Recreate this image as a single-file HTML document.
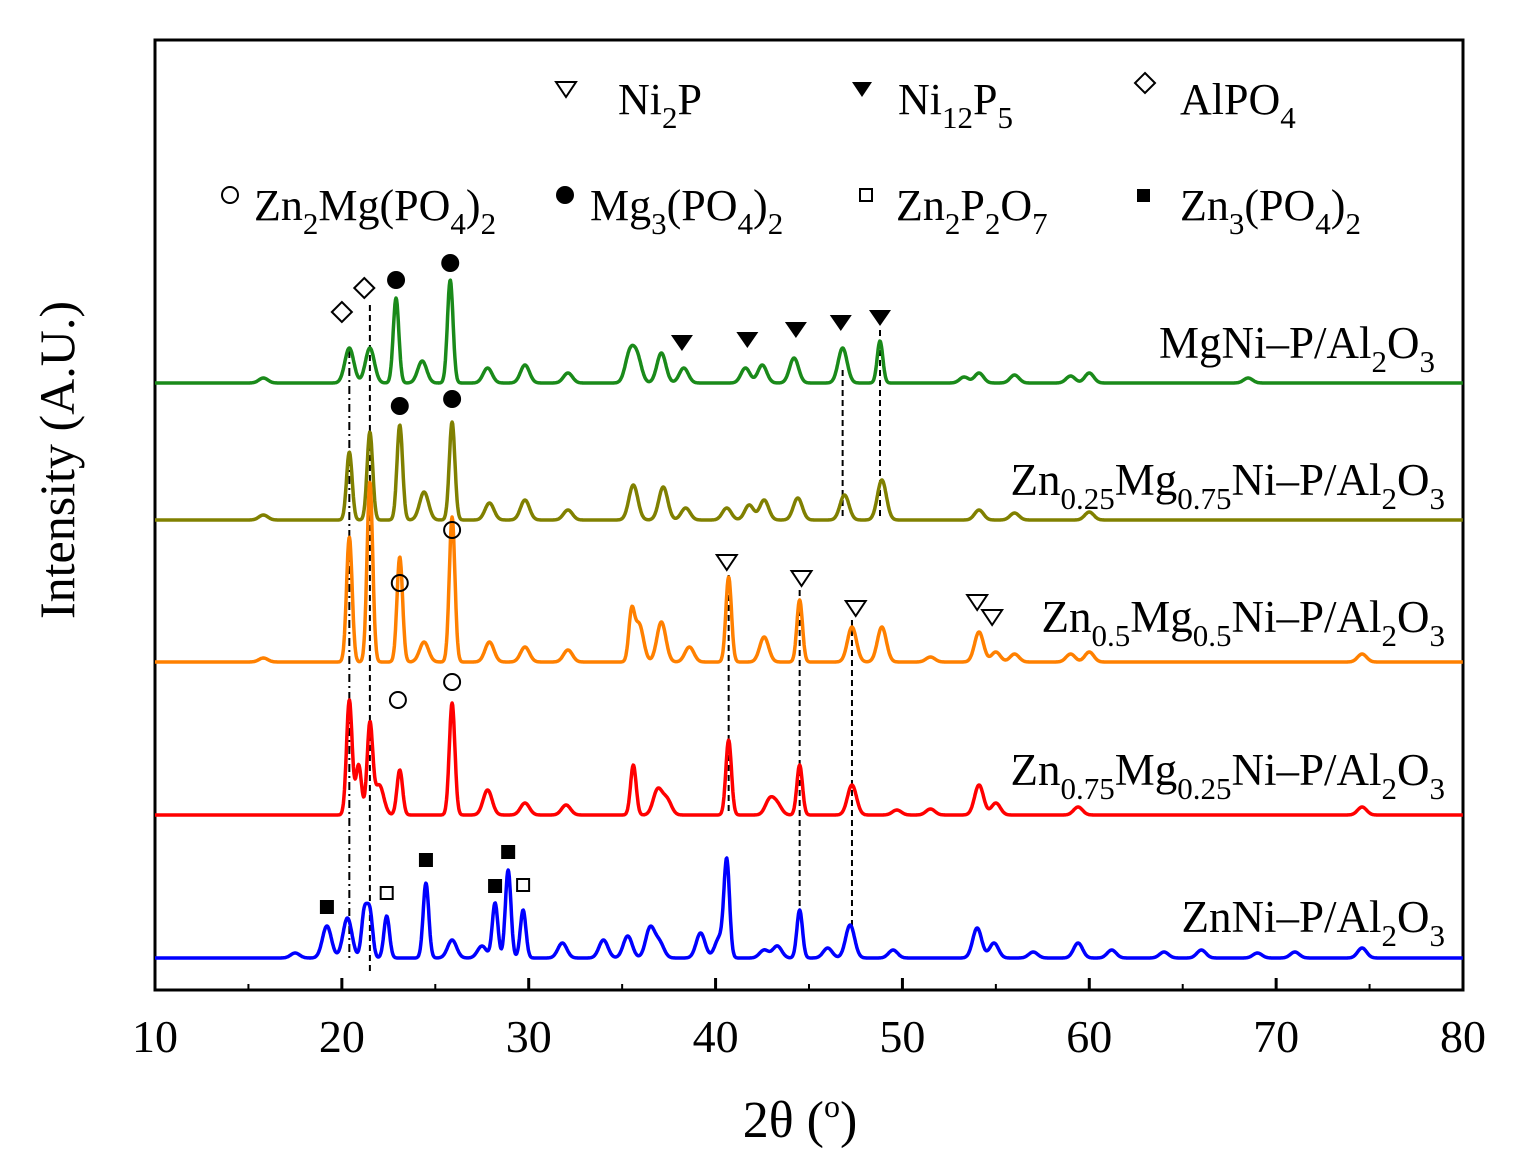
<!DOCTYPE html>
<html><head><meta charset="utf-8"><style>
html,body{margin:0;padding:0;background:#fff}
svg{display:block;font-family:"Liberation Serif",serif}
</style></head><body>
<svg id="chart" width="1513" height="1168" viewBox="0 0 1513 1168" xmlns="http://www.w3.org/2000/svg">
<rect x="155" y="40" width="1308" height="950" fill="none" stroke="#000" stroke-width="3"/>
<g id="ticks"></g>
<text x="800" y="1137" font-size="52" text-anchor="middle">2θ (<tspan font-size="32" dy="-20">o</tspan><tspan dy="20">)</tspan></text>
<text transform="translate(74,460) rotate(-90)" font-size="50" text-anchor="middle">Intensity (A.U.)</text>
<g id="refs"></g>
<g id="series"></g>
<g id="marks"></g>
<g font-size="44">
<g><polygon points="556,82 576,82 566,97" fill="none" stroke="#000" stroke-width="2"/><text x="618" y="114">Ni<tspan font-size="31" dy="14">2</tspan><tspan dy="-14">P</tspan></text></g>
<g><polygon points="852,82 872,82 862,97" fill="#000"/><text x="898" y="114">Ni<tspan font-size="31" dy="14">12</tspan><tspan dy="-14">P</tspan><tspan font-size="31" dy="14">5</tspan></text></g>
<g><polygon points="1145,73 1155,83 1145,93 1135,83" fill="none" stroke="#000" stroke-width="2"/><text x="1180" y="114">AlPO<tspan font-size="31" dy="14">4</tspan></text></g>
<g><circle cx="230" cy="195" r="8" fill="none" stroke="#000" stroke-width="2"/><text x="254" y="220">Zn<tspan font-size="31" dy="14">2</tspan><tspan dy="-14">Mg(PO</tspan><tspan font-size="31" dy="14">4</tspan><tspan dy="-14">)</tspan><tspan font-size="31" dy="14">2</tspan></text></g>
<g><circle cx="565" cy="195" r="9" fill="#000"/><text x="590" y="220">Mg<tspan font-size="31" dy="14">3</tspan><tspan dy="-14">(PO</tspan><tspan font-size="31" dy="14">4</tspan><tspan dy="-14">)</tspan><tspan font-size="31" dy="14">2</tspan></text></g>
<g><rect x="860" y="189" width="12" height="12" fill="none" stroke="#000" stroke-width="2"/><text x="896" y="220">Zn<tspan font-size="31" dy="14">2</tspan><tspan dy="-14">P</tspan><tspan font-size="31" dy="14">2</tspan><tspan dy="-14">O</tspan><tspan font-size="31" dy="14">7</tspan></text></g>
<g><rect x="1137" y="189" width="13" height="13" fill="#000"/><text x="1180" y="220">Zn<tspan font-size="31" dy="14">3</tspan><tspan dy="-14">(PO</tspan><tspan font-size="31" dy="14">4</tspan><tspan dy="-14">)</tspan><tspan font-size="31" dy="14">2</tspan></text></g>
</g>
<g font-size="45" text-anchor="end">
<text x="1435" y="358">MgNi–P/Al<tspan font-size="31" dy="14">2</tspan><tspan dy="-14">O</tspan><tspan font-size="31" dy="14">3</tspan></text>
<text x="1445" y="495">Zn<tspan font-size="31" dy="14">0.25</tspan><tspan dy="-14">Mg</tspan><tspan font-size="31" dy="14">0.75</tspan><tspan dy="-14">Ni–P/Al</tspan><tspan font-size="31" dy="14">2</tspan><tspan dy="-14">O</tspan><tspan font-size="31" dy="14">3</tspan></text>
<text x="1445" y="632">Zn<tspan font-size="31" dy="14">0.5</tspan><tspan dy="-14">Mg</tspan><tspan font-size="31" dy="14">0.5</tspan><tspan dy="-14">Ni–P/Al</tspan><tspan font-size="31" dy="14">2</tspan><tspan dy="-14">O</tspan><tspan font-size="31" dy="14">3</tspan></text>
<text x="1445" y="785">Zn<tspan font-size="31" dy="14">0.75</tspan><tspan dy="-14">Mg</tspan><tspan font-size="31" dy="14">0.25</tspan><tspan dy="-14">Ni–P/Al</tspan><tspan font-size="31" dy="14">2</tspan><tspan dy="-14">O</tspan><tspan font-size="31" dy="14">3</tspan></text>
<text x="1445" y="932">ZnNi–P/Al<tspan font-size="31" dy="14">2</tspan><tspan dy="-14">O</tspan><tspan font-size="31" dy="14">3</tspan></text>
</g>
</svg>
<script>
const xTicks=[10,20,30,40,50,60,70,80];
const baselines=[383,520,662,815,958];
const colors=['#1a8a1a','#808000','#ff8000','#ff0000','#0000ff'];
const names=['mgni','zn025','zn05','zn075','znni'];
const posG=[15.8,20.4,21.5,22.9,24.3,25.8,27.8,29.8,32.1,35.4,35.8,37.1,38.3,41.6,42.5,44.2,46.8,48.8,53.3,54.1,56.0,59.0,60.0,68.5];
const hG=[5,35,35,85,22,103,15,18,10,28,25,30,15,15,18,25,35,42,6,10,8,7,10,5];
const posO=[15.8,20.4,21.5,23.1,24.4,25.9,27.9,29.8,32.1,35.6,37.2,38.4,40.6,41.8,42.6,44.4,46.9,48.9,54.1,56,60];
const hO=[5,68,88,95,28,98,17,20,10,35,33,12,12,15,20,22,25,40,10,7,8];
const posOr=[15.8,20.4,21.5,23.1,24.4,25.9,27.9,29.8,32.1,35.5,35.9,37.1,38.6,40.7,42.6,44.5,47.3,48.9,51.5,54.1,55,56,59,60,74.6];
const hOr=[4,125,180,105,20,145,20,15,12,45,38,40,15,85,25,62,35,35,5,30,10,8,8,10,8];
const posR=[20.4,20.9,21.5,22,23.1,25.9,27.8,29.8,32,35.6,36.9,37.4,40.7,42.9,43.3,44.5,47.3,49.7,51.5,54.1,55.0,59.4,74.6];
const hR=[115,50,90,30,45,112,25,12,10,50,25,15,75,15,10,50,30,5,6,30,12,8,8];
const posB=[17.5,19.2,20.3,21.2,21.5,22.4,24.5,25.9,27.5,28.2,28.9,29.7,31.8,34.0,35.3,36.5,37.0,39.2,40.2,40.6,42.6,43.3,44.5,46.0,47.2,49.5,54.0,54.9,57,59.4,61.2,64,66,69,71,74.6];
const hB=[5,32,40,45,45,42,75,18,12,55,88,48,15,18,22,30,15,25,20,95,8,12,48,10,33,8,30,15,6,15,8,6,8,5,6,10];
const peakPos=[posG,posO,posOr,posR,posB];
const peakH=[hG,hO,hOr,hR,hB];
const X0=155,X1=1463;
function sx(d){return X0+(d-10)*(X1-X0)/70;}
const NS='http://www.w3.org/2000/svg';
function mk(t,a,p){const e=document.createElementNS(NS,t);for(const k in a)e.setAttribute(k,a[k]);p.appendChild(e);return e;}
const tg=document.getElementById('ticks');
xTicks.forEach(v=>{
  const l=mk('line',{x1:sx(v),x2:sx(v),y1:990,y2:978,stroke:'#000','stroke-width':3},tg);
  
  
  const t=mk('text',{x:sx(v),y:1052,'font-size':46,'text-anchor':'middle'},tg);
  t.textContent=v;
  
  
});
for(let v=15;v<80;v+=10){
  const l=mk('line',{x1:sx(v),x2:sx(v),y1:990,y2:984,stroke:'#000','stroke-width':2},tg);
  
  
}
const sg=document.getElementById('series');
peakPos.forEach((ps,i)=>{
  let d='';
  for(let x=10;x<=80.001;x+=0.03){
    let y=0;
    ps.forEach((p,j)=>{const s=peakH[i][j]>40?0.15:0.24;y+=peakH[i][j]*Math.exp(-((x-p)**2)/(2*s*s));});
    d+=(d?'L':'M')+sx(x).toFixed(1)+','+(baselines[i]-y).toFixed(1);
  }
  const path=mk('path',{d:d,fill:'none',stroke:colors[i],'stroke-width':3.5,'stroke-linejoin':'round'},sg);
  
  
});
const refX=[20.4,21.5,40.7,44.5,47.3,46.8,48.8];
const refY1=[350,305,575,590,620,370,330];
const refY2=[958,975,815,915,930,520,520];
const rg=document.getElementById('refs');
refX.forEach((v,i)=>{
  const l=mk('line',{x1:sx(v),x2:sx(v),y1:refY1[i],y2:refY2[i],stroke:'#000','stroke-width':2,'stroke-dasharray':i==0?'8,4,2,4':'6,4'},rg);
  
  
});
const mg=document.getElementById('marks');
const markType=['d','d','fc','fc','ft','ft','ft','ft','ft','fc','fc','oc','oc','oc','oc','ot','ot','ot','ot','ot','fs','fs','fs','fs','os','os'];
const markX=[20.0,21.2,22.9,25.8,38.2,41.7,44.3,46.7,48.8,23.1,25.9,23.1,25.9,23.0,25.9,40.6,44.6,47.5,54.0,54.8,19.2,24.5,28.2,28.9,22.4,29.7];
const markY=[312,288,280,263,343,340,330,323,318,406,399,583,530,700,682,562,578,608,602,617,907,860,886,852,893,885];
markType.forEach((t,i)=>{
  const x=sx(markX[i]),y=markY[i];let e;
  if(t=='d')e=mk('polygon',{points:`${x},${y-10} ${x+10},${y} ${x},${y+10} ${x-10},${y}`,fill:'none',stroke:'#000','stroke-width':2},mg);
  else if(t=='fc')e=mk('circle',{cx:x,cy:y,r:9,fill:'#000'},mg);
  else if(t=='oc')e=mk('circle',{cx:x,cy:y,r:8,fill:'none',stroke:'#000','stroke-width':2},mg);
  else if(t=='ft')e=mk('polygon',{points:`${x-11},${y-8} ${x+11},${y-8} ${x},${y+8}`,fill:'#000'},mg);
  else if(t=='ot')e=mk('polygon',{points:`${x-10},${y-7} ${x+10},${y-7} ${x},${y+8}`,fill:'none',stroke:'#000','stroke-width':2},mg);
  else if(t=='fs')e=mk('rect',{x:x-7,y:y-7,width:14,height:14,fill:'#000'},mg);
  else e=mk('rect',{x:x-6,y:y-6,width:12,height:12,fill:'none',stroke:'#000','stroke-width':2},mg);
  
  
});
</script>
</body></html>
